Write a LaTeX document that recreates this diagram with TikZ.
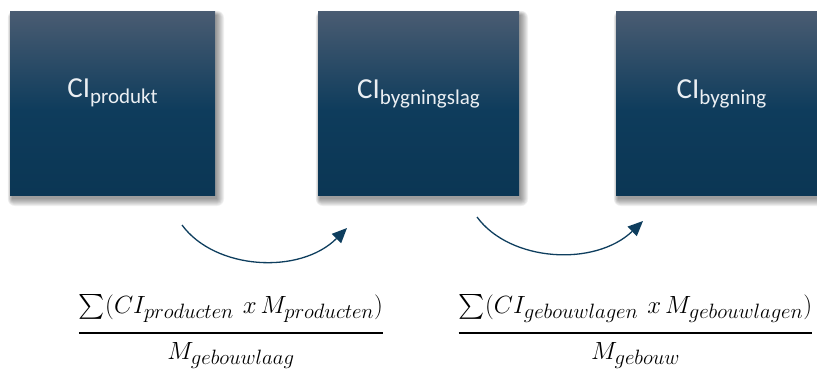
\documentclass[tikz,border=0pt]{standalone}
\usepackage{amsmath}
\usepackage{fontspec}
\setmainfont{Carlito}
\usetikzlibrary{arrows.meta}

% formulas: large subscripts relative to the main symbols
\DeclareMathSizes{24}{24}{21}{15}

\definecolor{boxtop}{RGB}{74,92,114}
\definecolor{boxmid}{RGB}{14,60,92}
\definecolor{boxbot}{RGB}{11,54,84}
\definecolor{arrowblue}{RGB}{14,62,94}
\definecolor{labelwhite}{RGB}{235,239,243}

% vertical fill of the boxes: grey-blue on top, dark blue from the middle down
% (the path covers 25bp..75bp of the shading)
\pgfdeclareverticalshading{boxshade}{100bp}{%
  color(0bp)=(boxbot); color(25bp)=(boxbot); color(48bp)=(boxmid);
  color(75bp)=(boxtop); color(100bp)=(boxtop)}

\tikzset{
  stagebox/.style={rectangle, inner sep=0pt, outer sep=0pt, shading=boxshade},
  stagelabel/.style={anchor=base, text=labelwhite, inner sep=0pt},
  flowarrow/.style={draw=arrowblue, line width=1.3pt,
    -{Triangle[length=15pt,width=13pt]}},
  formula/.style={anchor=base, inner sep=0pt, font=\fontsize{24}{28}\selectfont},
  fracbar/.style={draw=black, line width=1.6pt}
}

% label: large "CI" with a lowered smaller subscript
\newcommand{\cilabel}[1]{{\fontsize{29}{29}\selectfont CI}{\fontsize{21}{21}\selectfont\raisebox{-6.5pt}{#1}}}

% product sign with its surrounding spacing
\newcommand{\timesx}{\hspace{9pt}x\hspace{4pt}}

% soft drop shadow behind a rectangle given by corners (#1,#2) and (#3,#4)
\newcommand{\softshadow}[4]{%
  \foreach \e in {0,1,...,7}{%
    \fill[black, opacity=0.06, rounded corners=\e pt]
      (#1+2-\e*0.6, #2+4-\e*0.6) rectangle (#3+2+\e, #4+4+\e);
  }%
}

\begin{document}
\begin{tikzpicture}[x=1pt, y=-1pt]
  \useasboundingbox (0,0) rectangle (817,370);

  % shadows
  \softshadow{10}{11}{215}{195}
  \softshadow{318}{11}{519}{195}
  \softshadow{616}{11}{827}{195}

  % stage boxes
  \node[stagebox, minimum width=205pt, minimum height=184pt] (produkt) at (112.5,103) {};
  \node[stagebox, minimum width=201pt, minimum height=184pt] (lag) at (418.5,103) {};
  \begin{scope}
    \clip (0,0) rectangle (817,370);
    \node[stagebox, minimum width=211pt, minimum height=184pt] (bygning) at (721.5,103) {};
  \end{scope}

  % labels
  \node[stagelabel] (tp) at (112.5,97) {\cilabel{produkt}};
  \node[stagelabel] (tl) at (418.5,98) {\cilabel{bygningslag}};
  \node[stagelabel] (tb) at (721.5,98) {\cilabel{bygning}};

  % curved arrows
  \coordinate (a1s) at (182,225);
  \coordinate (a1e) at (347,228);
  \coordinate (a2s) at (477,217);
  \coordinate (a2e) at (643,221);
  \draw[flowarrow] (a1s) .. controls (215,270) and (300,275) .. (a1e);
  \draw[flowarrow] (a2s) .. controls (510,262) and (595,267) .. (a2e);

  % formulas: numerator, fraction bar, denominator
  \node[formula] (n1) at (231,313) {$\sum(CI_{producten}\timesx M_{producten})$};
  \node[formula] (d1) at (231,359) {$M_{gebouwlaag}$};
  \draw[fracbar] ([yshift=-20pt]n1.base west) -- ([yshift=-20pt]n1.base east);

  \node[formula] (n2) at (635.5,313) {$\sum(CI_{gebouwlagen}\timesx M_{gebouwlagen})$};
  \node[formula] (d2) at (635.5,359) {$M_{gebouw}$};
  \draw[fracbar] ([yshift=-20pt]n2.base west) -- ([yshift=-20pt]n2.base east);
\end{tikzpicture}
\end{document}
